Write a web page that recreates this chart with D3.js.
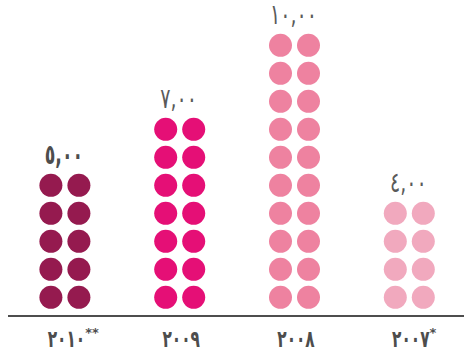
<!DOCTYPE html>
<html lang="ar">
<head>
<meta charset="UTF-8">
<title>Dot columns</title>
<script src="https://d3js.org/d3.v7.min.js"></script>
<style>
  html, body { margin: 0; padding: 0; background: #fff; }
  svg { display: block; font-family: "DejaVu Sans", sans-serif; }
</style>
</head>
<body>
<svg id="chart"></svg>
<script>
// years shown left to right, with their footnote marks
const years = ["٢٠١٠", "٢٠٠٩", "٢٠٠٨", "٢٠٠٧"];
const marks = ["**", "", "", "*"];
const values = [5, 7, 10, 4];
const valueLabels = ["٥,٠٠", "٧,٠٠", "١٠,٠٠", "٤,٠٠"];
const colors = ["#951a4f", "#e50f76", "#ee82a0", "#f1a9be"];

const width = 464, height = 358;
const svg = d3.select('#chart').attr('width', width).attr('height', height);

const x = d3.scalePoint().domain(years).range([64.9, 409.3]);
const y = d3.scaleLinear().domain([0, 9]).range([297.3, 45.3]);
const r = 11.5, off = 14;

// narrow the wide DejaVu digits so they look like the original face
function label(px, py, txt, size, weight, sx, fill) {
    const g = svg.append('g').attr('transform', `translate(${px},${py}) scale(${sx},1)`);
    const t = g.append('text')
        .attr('text-anchor', 'middle')
        .attr('fill', fill)
        .style('font-size', size + 'px')
        .style('font-weight', weight)
        .text(txt);
    return t.node().getComputedTextLength() * sx;
}

// dots: two per row, one row per unit
years.forEach((yr, i) => {
    const g = svg.append('g');
    const rows = d3.range(values[i]);
    [-off, off].forEach(dx => {
        g.selectAll(null)
            .data(rows)
            .enter().append('circle')
            .attr('cx', x(yr) + dx)
            .attr('cy', d => y(d))
            .attr('r', r)
            .attr('fill', colors[i]);
    });
    // first value is set bold, the rest light
    label(x(yr) - 1, y(values[i] - 1) - r - 10, valueLabels[i], 28,
        i === 0 ? 700 : 400, i === 0 ? 0.62 : 0.68, i === 0 ? '#4d4d4d' : '#5a5a5a');
});

// baseline
svg.append('line')
    .attr('x1', 8).attr('x2', width)
    .attr('y1', 316).attr('y2', 316)
    .attr('stroke', '#4d4d4d')
    .attr('stroke-width', 2);

// year labels with footnote stars
years.forEach((yr, i) => {
    const w = label(x(yr) + 1.5, 347, yr, 24, 700, 0.64, '#4d4d4d');
    if (marks[i]) {
        svg.append('text')
            .attr('x', x(yr) + 1.5 + w / 2)
            .attr('y', 337)
            .attr('fill', '#4d4d4d')
            .style('font-size', '13px')
            .style('font-weight', 700)
            .text(marks[i]);
    }
});
</script>
</body>
</html>
